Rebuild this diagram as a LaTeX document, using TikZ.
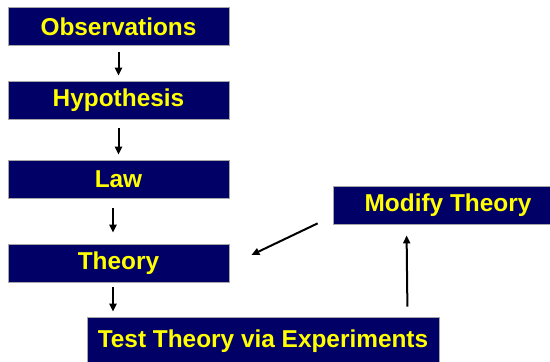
\documentclass[tikz,border=0pt]{standalone}
\usepackage{fontspec}
\setmainfont{Liberation Sans}
\usepackage{tikz}
\usetikzlibrary{arrows.meta}
\usepackage{xcolor}
\definecolor{navybox}{HTML}{000066}
\definecolor{boxtext}{HTML}{FFFF00}

\tikzset{
  stagebox/.style={draw=gray!70,line width=0.8pt,fill=navybox,text=boxtext,
    font=\fontsize{24.4}{28}\selectfont\bfseries,inner sep=0pt,
    minimum width=221pt,minimum height=38pt},
  flow/.style={->,line width=2pt}
}

\begin{document}
\begin{tikzpicture}[x=1pt,y=1pt,>={Triangle[length=8pt,width=7pt]},line cap=butt]
\useasboundingbox (0,0) rectangle (550,362);
\node[stagebox] (obs) at (118.5,335.5) {Observations};
\node[stagebox] (hyp) at (118.5,262) {Hypothesis};
\node[stagebox] (law) at (118.5,183) {Law\hspace{12pt}};
\node[stagebox] (thy) at (118.5,99) {Theory\hspace{11pt}};
\node[stagebox,minimum width=352pt,minimum height=49pt] (tst) at (263,20.5) {Test Theory via Experiments};
\node[stagebox,minimum width=230pt] (mod) at (448,157) {Modify Theory};
\draw[flow,shorten <=6pt,shorten >=5pt] (obs.south) -- (hyp.north);
\draw[flow,shorten <=9pt,shorten >=5pt] (hyp.south) -- (law.north);
\draw[flow,shorten <=10pt,shorten >=11pt] ([xshift=-5.5pt]law.south) -- ([xshift=-5.5pt]thy.north);
\draw[flow,shorten <=5pt,shorten >=5pt] ([xshift=-5.5pt]thy.south) -- ([xshift=-5.5pt]thy.south |- tst.north);
\draw[flow] ([xshift=-32pt,yshift=10pt]tst.north east) -- ([xshift=74pt,yshift=-11pt]mod.south west);
\draw[flow] ([xshift=-15pt,yshift=1pt]mod.south west) -- ([xshift=22pt,yshift=8pt]thy.east);
\end{tikzpicture}
\end{document}
